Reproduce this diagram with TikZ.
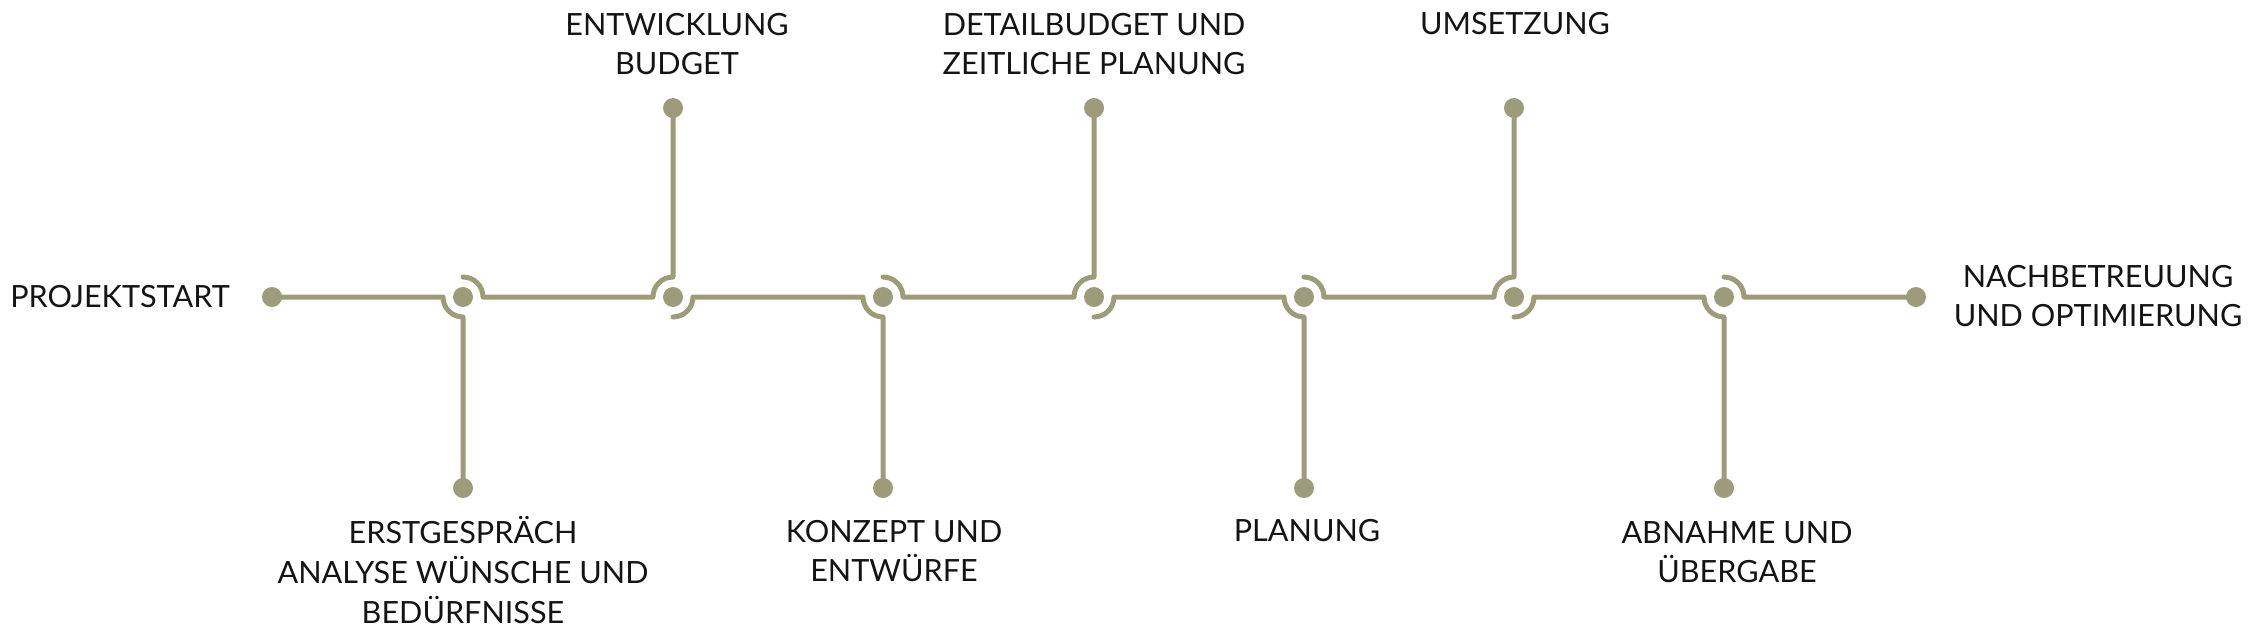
\documentclass[tikz,border=0pt]{standalone}
\usepackage{fontspec}
\setmainfont{Lato}
\definecolor{olive}{RGB}{158,155,124}
\definecolor{txt}{RGB}{20,20,20}
\begin{document}
\begin{tikzpicture}[x=0.5pt,y=0.5pt,
  dot/.style={circle,fill=olive,inner sep=0pt,minimum size=10pt},
  jdot/.style={circle,fill=olive,inner sep=0pt,minimum size=10pt},
  conn/.style={draw=olive,line width=2.5pt,line cap=round,line join=round},
  lab/.style={align=center,text=txt,font=\fontsize{15.3}{19.8}\selectfont,inner sep=0pt}]
\useasboundingbox (0,0) rectangle (2256,-629);
% start / end
\node[dot] (s) at (272,-297) {};
\node[dot] (e) at (1916,-297) {};
% junctions
\node[jdot] (j1) at (463,-297) {};
\node[jdot] (j2) at (673,-297) {};
\node[jdot] (j3) at (883,-297) {};
\node[jdot] (j4) at (1094,-297) {};
\node[jdot] (j5) at (1304,-297) {};
\node[jdot] (j6) at (1514,-297) {};
\node[jdot] (j7) at (1724,-297) {};
% branch end dots
\node[dot] (b1) at (463,-488) {};
\node[dot] (t2) at (673,-108) {};
\node[dot] (b3) at (883,-488) {};
\node[dot] (t4) at (1094,-108) {};
\node[dot] (b5) at (1304,-488) {};
\node[dot] (t6) at (1514,-108) {};
\node[dot] (b7) at (1724,-488) {};
% connectors
\draw[conn] (s.center) -- ([xshift=-10pt]j1.center) arc[start angle=180,end angle=270,radius=10pt] -- (b1.center);
\draw[conn] ([yshift=10pt]j1.center) arc[start angle=90,end angle=0,radius=10pt] -- ([xshift=-10pt]j2.center) arc[start angle=180,end angle=90,radius=10pt] -- (t2.center);
\draw[conn] ([yshift=-10pt]j2.center) arc[start angle=270,end angle=360,radius=10pt] -- ([xshift=-10pt]j3.center) arc[start angle=180,end angle=270,radius=10pt] -- (b3.center);
\draw[conn] ([yshift=10pt]j3.center) arc[start angle=90,end angle=0,radius=10pt] -- ([xshift=-10pt]j4.center) arc[start angle=180,end angle=90,radius=10pt] -- (t4.center);
\draw[conn] ([yshift=-10pt]j4.center) arc[start angle=270,end angle=360,radius=10pt] -- ([xshift=-10pt]j5.center) arc[start angle=180,end angle=270,radius=10pt] -- (b5.center);
\draw[conn] ([yshift=10pt]j5.center) arc[start angle=90,end angle=0,radius=10pt] -- ([xshift=-10pt]j6.center) arc[start angle=180,end angle=90,radius=10pt] -- (t6.center);
\draw[conn] ([yshift=-10pt]j6.center) arc[start angle=270,end angle=360,radius=10pt] -- ([xshift=-10pt]j7.center) arc[start angle=180,end angle=270,radius=10pt] -- (b7.center);
\draw[conn] ([yshift=10pt]j7.center) arc[start angle=90,end angle=0,radius=10pt] -- (e.center);
% labels
\node[lab] (l0) at (120,-297) {PROJEKTSTART};
\node[lab] (l1) at (463,-570) {ERSTGESPRÄCH\\ANALYSE WÜNSCHE UND\\BEDÜRFNISSE};
\node[lab] (l2) at (677,-44) {ENTWICKLUNG\\BUDGET};
\node[lab] (l3) at (894,-551) {KONZEPT UND\\ENTWÜRFE};
\node[lab] (l4) at (1094,-44) {DETAILBUDGET UND\\ZEITLICHE PLANUNG};
\node[lab] (l5) at (1307,-531) {PLANUNG};
\node[lab] (l6) at (1515,-24) {UMSETZUNG};
\node[lab] (l7) at (1737,-552) {ABNAHME UND\\ÜBERGABE};
\node[lab] (l8) at (2098,-296) {NACHBETREUUNG\\UND OPTIMIERUNG};
\end{tikzpicture}
\end{document}
